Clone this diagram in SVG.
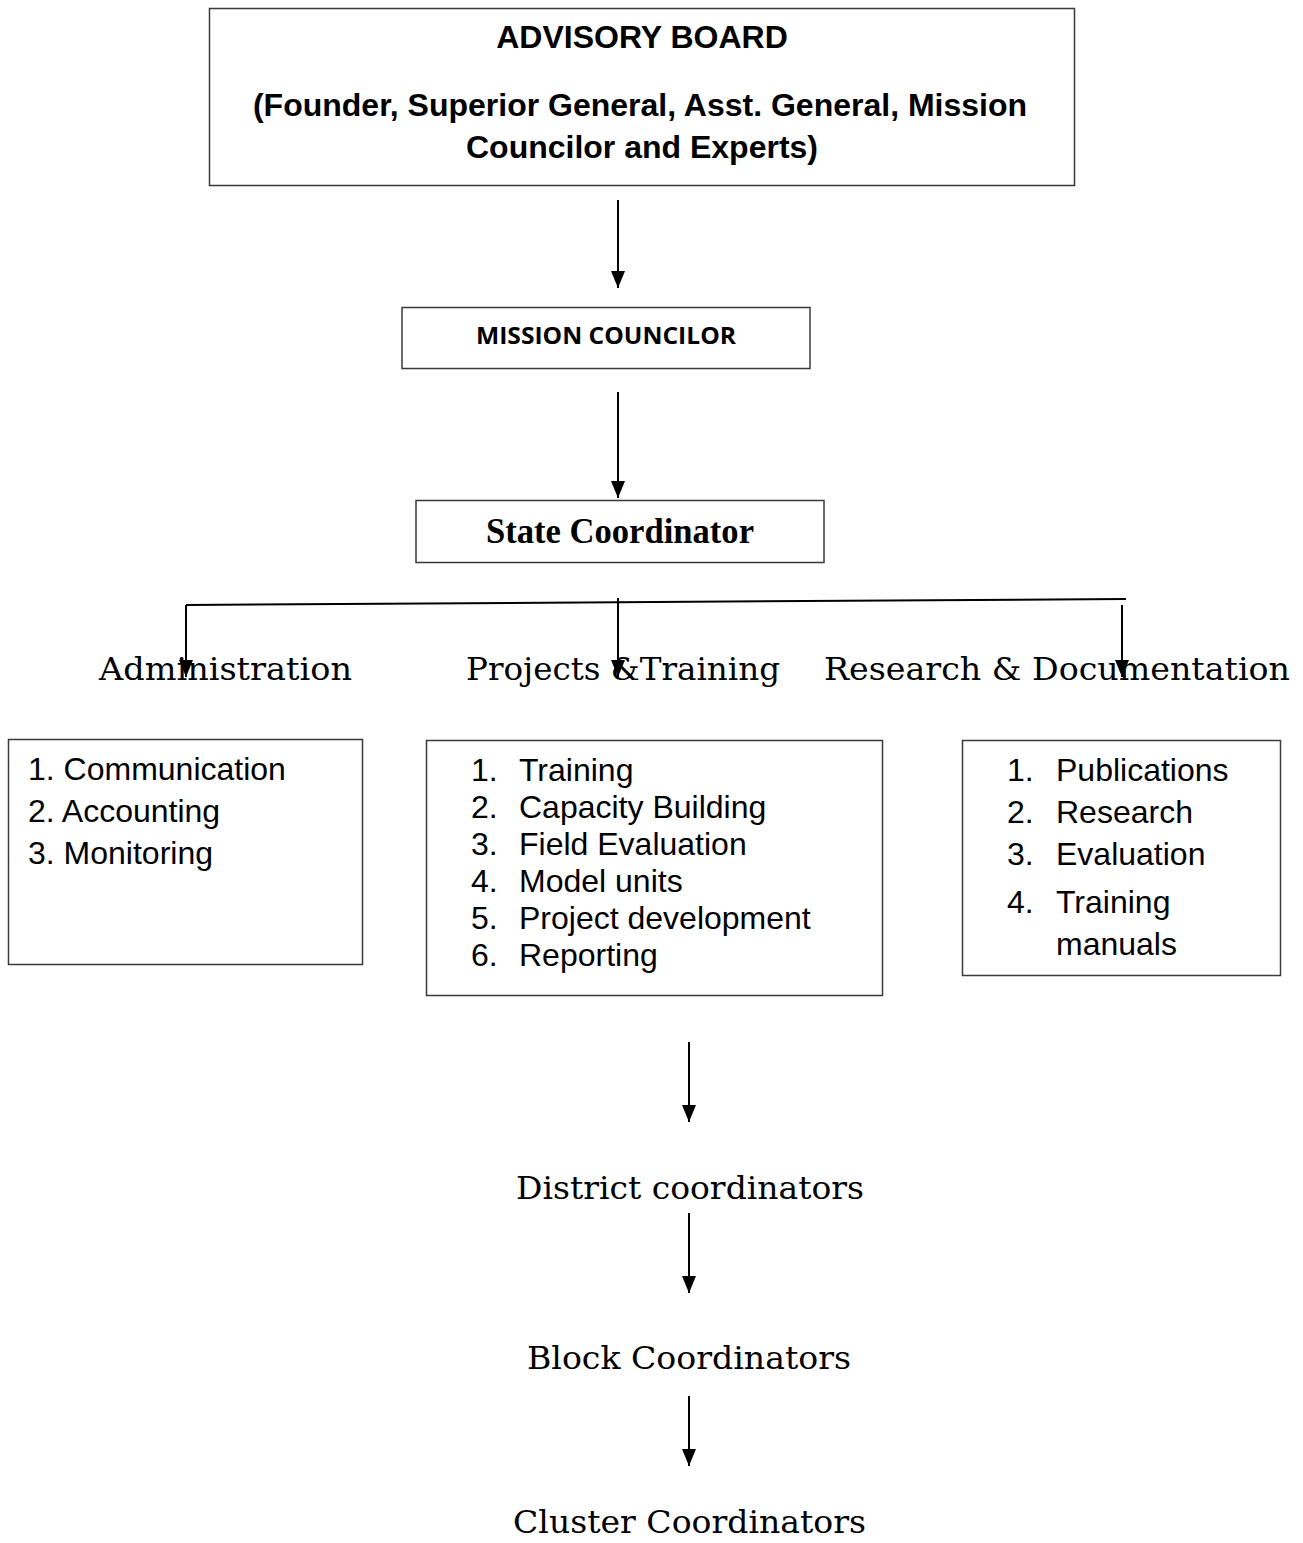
<svg xmlns="http://www.w3.org/2000/svg" width="1303" height="1543" viewBox="0 0 1303 1543">
<defs>
<marker id="ah" viewBox="0 -7 17 14" refX="17" refY="0" markerWidth="17" markerHeight="14" markerUnits="userSpaceOnUse" orient="auto">
<path d="M0,-7 L17,0 L0,7 z" fill="#000"/>
</marker>
<style>
.box{fill:#fff;stroke:#3a3a3a;stroke-width:1.5}
.conn{stroke:#000;stroke-width:2;fill:none}
.arr{stroke:#000;stroke-width:2;fill:none;marker-end:url(#ah)}
.hb{font-family:"Liberation Sans",Arial,sans-serif;font-weight:bold;font-size:32px;fill:#000}
.mc{font-family:"Open Sans","Liberation Sans",sans-serif;font-weight:bold;font-size:24px;fill:#000}
.sc{font-family:"Liberation Serif","Times New Roman",serif;font-weight:bold;font-size:35px;fill:#000}
.lb{font-family:"DejaVu Serif","Liberation Serif",serif;font-size:32px;fill:#000}
.li{font-family:"Liberation Sans",Arial,sans-serif;font-size:32px;fill:#000}
</style>
</defs>
<rect width="1303" height="1543" fill="#fff"/>

<g id="connectors">
<line class="arr" x1="618" y1="200" x2="618" y2="288"/>
<line class="arr" x1="618" y1="392" x2="618" y2="498"/>
<line class="conn" x1="186" y1="605" x2="1126" y2="599"/>
<line class="arr" x1="186" y1="605" x2="186" y2="677"/>
<line class="arr" x1="618" y1="598" x2="618" y2="677"/>
<line class="arr" x1="1122" y1="605" x2="1122" y2="677"/>
<line class="arr" x1="689" y1="1042" x2="689" y2="1122"/>
<line class="arr" x1="689" y1="1213" x2="689" y2="1293"/>
<line class="arr" x1="689" y1="1396" x2="689" y2="1466"/>
</g>

<g id="advisory-board">
<rect class="box" x="209.5" y="8.5" width="865" height="177"/>
<text class="hb" x="642" y="48" text-anchor="middle">ADVISORY BOARD</text>
<text class="hb" x="640" y="116" text-anchor="middle">(Founder, Superior General, Asst. General, Mission</text>
<text class="hb" x="642" y="158" text-anchor="middle">Councilor and Experts)</text>
</g>

<g id="mission-councilor">
<rect class="box" x="402" y="307.5" width="408" height="61"/>
<text class="mc" x="606" y="344" text-anchor="middle" textLength="260" lengthAdjust="spacingAndGlyphs">MISSION COUNCILOR</text>
</g>

<g id="state-coordinator">
<rect class="box" x="416" y="500.5" width="408" height="62"/>
<text class="sc" x="620" y="543" text-anchor="middle" textLength="268" lengthAdjust="spacingAndGlyphs">State Coordinator</text>
</g>

<g id="administration">
<text class="lb" x="99" y="680" textLength="253" lengthAdjust="spacingAndGlyphs">Administration</text>
</g>
<g id="projects-training">
<text class="lb" x="466" y="680" textLength="314" lengthAdjust="spacingAndGlyphs">Projects &amp;Training</text>
</g>
<g id="research-documentation">
<text class="lb" x="824" y="680" textLength="466" lengthAdjust="spacingAndGlyphs">Research &amp; Documentation</text>
</g>

<g id="admin-list">
<rect class="box" x="8.5" y="739.5" width="354" height="225"/>
<text class="li" x="28" y="780">1. Communication</text>
<text class="li" x="28" y="822">2. Accounting</text>
<text class="li" x="28" y="864">3. Monitoring</text>
</g>

<g id="projects-list">
<rect class="box" x="426.5" y="740.5" width="456" height="255"/>
<text class="li" x="471" y="781">1.</text><text class="li" x="519" y="781">Training</text>
<text class="li" x="471" y="818">2.</text><text class="li" x="519" y="818">Capacity Building</text>
<text class="li" x="471" y="855">3.</text><text class="li" x="519" y="855">Field Evaluation</text>
<text class="li" x="471" y="892">4.</text><text class="li" x="519" y="892">Model units</text>
<text class="li" x="471" y="929">5.</text><text class="li" x="519" y="929">Project development</text>
<text class="li" x="471" y="966">6.</text><text class="li" x="519" y="966">Reporting</text>
</g>

<g id="research-list">
<rect class="box" x="962.5" y="740.5" width="318" height="235"/>
<text class="li" x="1007" y="781">1.</text><text class="li" x="1056" y="781">Publications</text>
<text class="li" x="1007" y="823">2.</text><text class="li" x="1056" y="823">Research</text>
<text class="li" x="1007" y="865">3.</text><text class="li" x="1056" y="865">Evaluation</text>
<text class="li" x="1007" y="913">4.</text><text class="li" x="1056" y="913">Training</text>
<text class="li" x="1056" y="955">manuals</text>
</g>

<g id="district-coordinators">
<text class="lb" x="516" y="1199" textLength="348" lengthAdjust="spacingAndGlyphs">District coordinators</text>
</g>
<g id="block-coordinators">
<text class="lb" x="527" y="1369" textLength="324" lengthAdjust="spacingAndGlyphs">Block Coordinators</text>
</g>
<g id="cluster-coordinators">
<text class="lb" x="513" y="1533" textLength="353" lengthAdjust="spacingAndGlyphs">Cluster Coordinators</text>
</g>
</svg>
